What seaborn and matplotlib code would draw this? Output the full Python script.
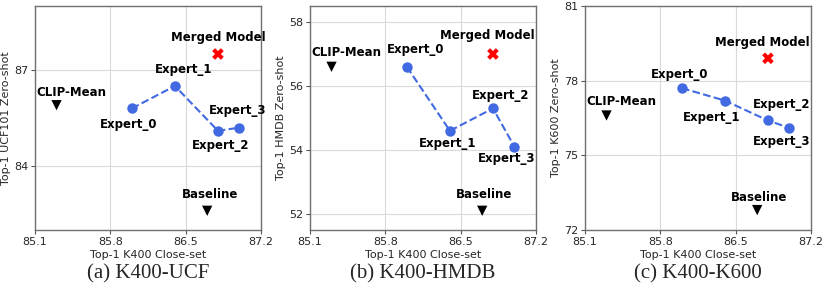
import matplotlib
matplotlib.use("Agg")
import matplotlib.pyplot as plt
import seaborn as sns
import pandas as pd

sns.set_theme(style="whitegrid")
plt.rcParams['font.family'] = ['DejaVu Sans']

# ---- data ----
expert_names = ["Expert_0", "Expert_1", "Expert_2", "Expert_3"]
expert_x = [86.0, 86.4, 86.8, 87.0]

ucf_expert_y = [85.8, 86.5, 85.1, 85.2]
hmdb_expert_y = [56.6, 54.6, 55.3, 54.1]
k600_expert_y = [77.7, 77.2, 76.4, 76.1]

merged_x = 86.8
ucf_merged_y = 87.5
hmdb_merged_y = 57.0
k600_merged_y = 78.9

clip_x = 85.3
ucf_clip_y = 85.9
hmdb_clip_y = 56.6
k600_clip_y = 76.6

base_x = 86.7
ucf_base_y = 82.6
hmdb_base_y = 52.1
k600_base_y = 72.8

xticks = [85.1, 85.8, 86.5, 87.2]
ucf_yticks = [84, 87]
hmdb_yticks = [52, 54, 56, 58]
k600_yticks = [72, 75, 78, 81]

ylabels = ["Top-1 UCF101 Zero-shot", "Top-1 HMDB Zero-shot", "Top-1 K600 Zero-shot"]
captions = ["(a) K400-UCF", "(b) K400-HMDB", "(c) K400-K600"]
xlabel = "Top-1 K400 Close-set"

# ---- layout/styling (not data) ----
ylims = [(82, 89), (51.5, 58.5), (72, 81)]
# label offsets in pixels (dx, dy) for Expert_0..3, Merged, CLIP, Baseline
offsets = [
    [(-3, -16), (9, 17), (3, -15), (-2, 17), (0, 17), (15, 13), (3, 16)],
    [(9, 17), (-2, -13), (8, 13), (-8, -12), (-6, 18), (15, 14), (2, 16)],
    [(-2, 14), (-13, -17), (14, 16), (-8, -14), (-6, 16), (15, 14), (2, 13)],
]

panels = [
    (ucf_expert_y, ucf_merged_y, ucf_clip_y, ucf_base_y, ucf_yticks),
    (hmdb_expert_y, hmdb_merged_y, hmdb_clip_y, hmdb_base_y, hmdb_yticks),
    (k600_expert_y, k600_merged_y, k600_clip_y, k600_base_y, k600_yticks),
]

fig = plt.figure(figsize=(8.3, 2.85), dpi=100)
W, H = 830, 285
lefts = [35, 310, 585]
axw = 226
top, bottom = 6, 230

blue = "#4169E1"
for i, (ey, my, cy, by, yt) in enumerate(panels):
    ax = fig.add_axes([lefts[i] / W, 1 - bottom / H, axw / W, (bottom - top) / H])
    df = pd.DataFrame({"x": expert_x, "y": ey, "name": expert_names})
    sns.lineplot(data=df, x="x", y="y", ax=ax, color=blue, linestyle="--",
                 linewidth=1.5, marker="o", markersize=7.5, markeredgewidth=0,
                 sort=False, zorder=3)
    sns.scatterplot(x=[merged_x], y=[my], ax=ax, marker="X", color="red", s=70,
                    edgecolor="none", zorder=4)
    sns.scatterplot(x=[clip_x, base_x], y=[cy, by], ax=ax, marker="v", color="black",
                    s=55, edgecolor="none", zorder=4)
    names = expert_names + ["Merged Model", "CLIP-Mean", "Baseline"]
    xs = expert_x + [merged_x, clip_x, base_x]
    ys = list(ey) + [my, cy, by]
    for j, (n, x, y) in enumerate(zip(names, xs, ys)):
        dx, dy = offsets[i][j]
        ax.annotate(n, (x, y), xytext=(dx * 0.72, dy * 0.72), textcoords="offset points",
                    ha="center", va="center", fontsize=8.5, fontweight="bold", color="black")
    ax.set_xlim(85.1, 87.2)
    ax.set_ylim(*ylims[i])
    ax.set_xticks(xticks)
    ax.set_yticks(yt)
    ax.tick_params(axis="both", labelsize=8, length=3, width=0.8, color="#555555", pad=2,
                   bottom=True, left=True)
    ax.set_xlabel(xlabel, fontsize=8, labelpad=2)
    ax.set_ylabel(ylabels[i], fontsize=8, labelpad=2)
    ax.grid(True, color="#d9d9d9", linewidth=0.8)
    for s in ax.spines.values():
        s.set_color("#707070")
        s.set_linewidth(1.0)
    fig.text((lefts[i] + axw / 2) / W, 1 - 274 / H, captions[i], ha="center", va="center",
             fontsize=15, family="Liberation Serif")

fig.savefig("out.png", dpi=100)
